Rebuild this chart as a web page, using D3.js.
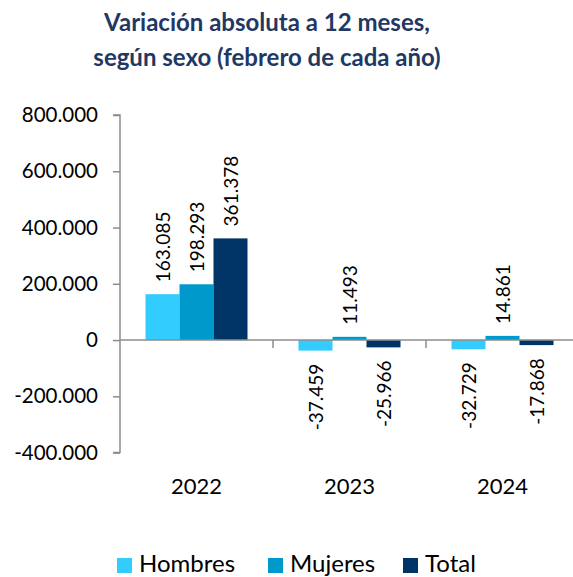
<!DOCTYPE html>
<html>
<head>
<meta charset="utf-8">
<script src="https://cdn.jsdelivr.net/npm/d3@7"></script>
<style>
  body { margin: 0; background: #fff; }
  svg { display: block; font-family: Lato, "Open Sans", sans-serif; }
</style>
</head>
<body>
<svg id="chart" width="573" height="577"></svg>
<script>
// data
var years = ["2022", "2023", "2024"];
var series = ["Hombres", "Mujeres", "Total"];
var hombres = [163085, -37459, -32729];
var mujeres = [198293, 11493, 14861];
var total = [361378, -25966, -17868];
var yTicks = [-400000, -200000, 0, 200000, 400000, 600000, 800000];
var colors = ["#33ccff", "#0099cc", "#003366"];

var values = [hombres, mujeres, total];
var rows = [];
years.forEach(function (y, i) {
    series.forEach(function (s, j) {
        rows.push({year: y, series: s, value: values[j][i], color: colors[j]});
    });
});

var svg = d3.select("#chart");
var fmt = function (v) {
    var s = d3.format(",")(Math.abs(v)).replace(/,/g, ".");
    return (v < 0 ? "-" : "") + s;
};

// title
var title = svg.append("text")
    .attr("text-anchor", "middle")
    .attr("font-weight", "bold")
    .attr("font-size", 24)
    .attr("fill", "#1f3864");
title.append("tspan").attr("x", 267).attr("y", 31).text("Variación absoluta a 12 meses,");
title.append("tspan").attr("x", 267).attr("y", 66).text("según sexo (febrero de cada año)");

var x = d3.scaleBand().domain(years).range([120, 579]);
var xs = d3.scaleBand().domain(series).range([0, x.bandwidth()]).paddingOuter(0.75).paddingInner(0);
var y = d3.scaleLinear().domain([-400000, 800000]).range([452.6, 115]);

// y axis
var yAxis = svg.append("g")
    .attr("transform", "translate(120,0)")
    .call(d3.axisLeft(y).tickValues(yTicks).tickSize(7).tickPadding(15).tickFormat(fmt));
yAxis.selectAll("path, line").attr("stroke", "#8c8c8c").attr("stroke-width", 1.5);
yAxis.select(".domain").attr("d", "M-7," + y(800000) + "H0V" + y(-400000) + "H-7");
yAxis.selectAll("text").attr("font-size", 20.5).attr("fill", "#000")
    .attr("font-family", "Lato, sans-serif");

// bars
svg.append("g").selectAll("rect").data(rows).join("rect")
    .attr("x", function (d) { return x(d.year) + xs(d.series); })
    .attr("width", xs.bandwidth())
    .attr("y", function (d) { return y(Math.max(0, d.value)); })
    .attr("height", function (d) { return Math.abs(y(d.value) - y(0)); })
    .attr("fill", function (d) { return d.color; });

// x axis line at zero and category separators
var xAxis = svg.append("g").attr("transform", "translate(0," + y(0) + ")");
xAxis.append("line").attr("x1", 120).attr("x2", 579)
    .attr("stroke", "#8c8c8c").attr("stroke-width", 1.5);
xAxis.selectAll(".sep").data(years.slice(1)).join("line")
    .attr("class", "sep")
    .attr("x1", function (d) { return x(d); }).attr("x2", function (d) { return x(d); })
    .attr("y1", 0).attr("y2", 8)
    .attr("stroke", "#8c8c8c").attr("stroke-width", 1.5);

svg.append("g").selectAll("text").data(years).join("text")
    .attr("x", function (d) { return x(d) + x.bandwidth() / 2; })
    .attr("y", 494)
    .attr("text-anchor", "middle")
    .attr("font-size", 22)
    .text(function (d) { return d; });

// data labels, rotated
svg.append("g").selectAll("text").data(rows).join("text")
    .attr("transform", function (d) {
        var cx = x(d.year) + xs(d.series) + xs.bandwidth() / 2 + 7;
        var cy = d.value >= 0 ? y(d.value) - 12 : y(d.value) + 13;
        return "translate(" + cx + "," + cy + ") rotate(-90)";
    })
    .attr("text-anchor", function (d) { return d.value >= 0 ? "start" : "end"; })
    .attr("font-size", 19)
    .text(function (d) { return fmt(d.value); });

// legend
var legend = svg.append("g").selectAll("g").data(series).join("g")
    .attr("transform", function (d, i) { return "translate(" + [117, 268, 403][i] + ",558)"; });
legend.append("rect").attr("width", 15).attr("height", 15)
    .attr("fill", function (d, i) { return colors[i]; });
legend.append("text").attr("x", 22).attr("y", 14)
    .attr("font-size", 24)
    .text(function (d) { return d; });
</script>
</body>
</html>
